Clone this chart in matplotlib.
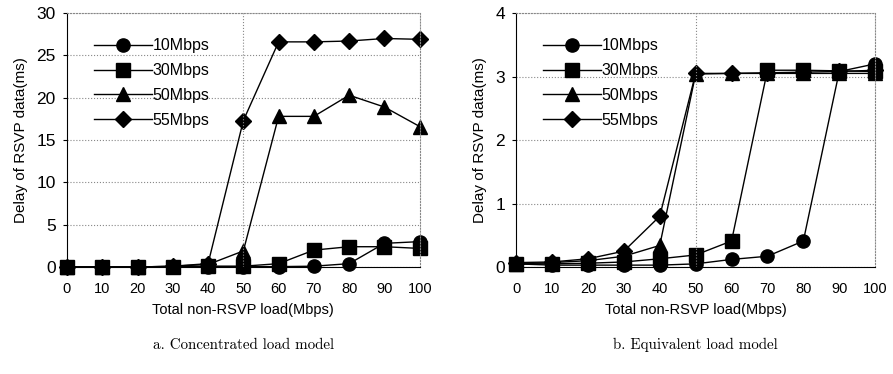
import numpy as np
import matplotlib
matplotlib.use("Agg")
import matplotlib.pyplot as plt

plt.rcParams['font.family'] = ['Liberation Sans', 'DejaVu Sans']

load = [0, 10, 20, 30, 40, 50, 60, 70, 80, 90, 100]
series_names = ['10Mbps', '30Mbps', '50Mbps', '55Mbps']
markers = ['o', 's', '^', 'D']

# a. Concentrated load model
conc_10 = [0, 0, 0, 0, 0.05, 0.05, 0.05, 0.1, 0.4, 2.8, 3.0]
conc_30 = [0, 0, 0, 0, 0.1, 0.1, 0.4, 2.0, 2.4, 2.4, 2.2]
conc_50 = [0, 0, 0, 0.1, 0.3, 1.9, 17.8, 17.8, 20.3, 18.9, 16.6]
conc_55 = [0, 0, 0, 0.1, 0.4, 17.3, 26.6, 26.6, 26.7, 27.0, 26.9]

# b. Equivalent load model
equi_10 = [0.05, 0.03, 0.03, 0.03, 0.03, 0.05, 0.12, 0.17, 0.41, 3.08, 3.2]
equi_30 = [0.05, 0.05, 0.06, 0.08, 0.13, 0.19, 0.41, 3.1, 3.1, 3.09, 3.08]
equi_50 = [0.05, 0.07, 0.1, 0.17, 0.34, 3.04, 3.05, 3.05, 3.05, 3.05, 3.05]
equi_55 = [0.07, 0.08, 0.13, 0.25, 0.8, 3.05, 3.05, 3.06, 3.07, 3.08, 3.1]

panels = [
    ([conc_10, conc_30, conc_50, conc_55], 30, 5, 'a. Concentrated load model'),
    ([equi_10, equi_30, equi_50, equi_55], 4, 1, 'b. Equivalent load model'),
]

fig = plt.figure(figsize=(8.93, 3.74), dpi=100)
rects = [[0.075, 0.286, 0.395, 0.679], [0.578, 0.286, 0.402, 0.679]]

for rect, (data, ymax, ystep, caption) in zip(rects, panels):
    ax = fig.add_axes(rect)
    for vals, name, m in zip(data, series_names, markers):
        ms = 9.5 if m != 'D' else 8
        ax.plot(load, vals, color='black', lw=1, marker=m, ms=ms,
                mfc='black', mec='black', label=name, clip_on=False)
    ax.set_xlim(0, 100)
    ax.set_ylim(0, ymax)
    ax.set_xticks(load)
    ax.set_yticks(np.arange(0, ymax + 0.1, ystep))
    ax.yaxis.grid(True, linestyle=':', color='#888888', lw=0.8)
    ax.axvline(50, linestyle=':', color='#888888', lw=0.8)
    for s in ['top', 'right']:
        ax.spines[s].set_linestyle(':')
        ax.spines[s].set_color('#888888')
    ax.tick_params(axis='x', length=0, pad=11, labelsize=10.5)
    ax.tick_params(axis='y', length=3, labelsize=12.5, pad=5)
    ax.set_xlabel('Total non-RSVP load(Mbps)', fontsize=10.5, labelpad=5)
    ax.set_ylabel('Delay of RSVP data(ms)', fontsize=11, labelpad=6)
    ax.legend(loc='upper left', bbox_to_anchor=(0.045, 0.945), frameon=False,
              handlelength=3.6, fontsize=11.5, labelspacing=0.62,
              handletextpad=0.05, borderaxespad=0.3)
    ax.text(0.5, -0.307, caption, transform=ax.transAxes, ha='center',
            va='center', fontfamily='cmr10', fontsize=10.8)

fig.savefig('out.png', dpi=100)
